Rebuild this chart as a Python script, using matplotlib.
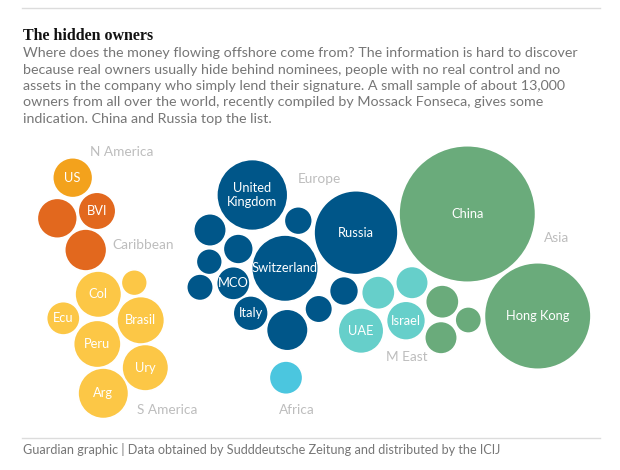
import matplotlib.pyplot as plt
from matplotlib.patches import Circle

# bubbles: label, region, centre x, centre y, radius (pixel space of the graphic)
labels = ["US", "", "BVI", "",
          "Col", "", "Ecu", "Brasil", "Peru", "Ury", "Arg",
          "United\nKingdom", "", "", "", "", "Switzerland", "", "MCO", "Italy", "", "", "", "Russia",
          "",
          "", "", "UAE", "Israel",
          "China", "Hong Kong", "", "", ""]
regions = ["nam", "car", "car", "car",
           "sam", "sam", "sam", "sam", "sam", "sam", "sam",
           "eur", "eur", "eur", "eur", "eur", "eur", "eur", "eur", "eur", "eur", "eur", "eur", "eur",
           "afr",
           "mea", "mea", "mea", "mea",
           "asia", "asia", "asia", "asia", "asia"]
cx = [72.7, 57.3, 97.0, 85.7,
      98.3, 134.3, 63.3, 140.7, 97.3, 145.3, 103.3,
      252.3, 210.0, 298.3, 238.3, 209.3, 285.0, 200.0, 233.3, 250.7, 287.3, 318.7, 344.0, 356.0,
      286.0,
      378.3, 412.0, 361.0, 406.0,
      467.3, 537.7, 442.3, 468.3, 441.0]
cy = [177.7, 218.3, 211.0, 250.0,
      294.3, 282.7, 318.3, 320.3, 344.0, 367.7, 393.3,
      195.0, 230.0, 220.7, 249.0, 261.7, 268.3, 287.3, 283.3, 313.3, 330.0, 309.0, 291.0, 232.7,
      377.7,
      292.7, 282.7, 330.7, 320.7,
      214.0, 316.0, 301.7, 320.0, 337.7]
radius = [20.0, 20.0, 18.8, 21.0,
          23.3, 13.0, 16.7, 23.8, 23.7, 23.3, 25.3,
          35.5, 16.3, 14.0, 15.0, 13.0, 33.3, 13.3, 16.7, 17.5, 20.8, 13.8, 14.5, 42.0,
          16.7,
          16.7, 16.3, 22.8, 19.5,
          68.3, 53.3, 16.7, 13.2, 16.3]

colours = {"nam": "#f3a21c", "car": "#e2681e", "sam": "#fcc746", "eur": "#005689",
           "afr": "#4bc6df", "mea": "#66cfca", "asia": "#6aab7b"}

region_names = ["N America", "Caribbean", "S America", "Europe", "Africa", "M East", "Asia"]
region_x = [122, 143, 167, 319, 297, 407, 557]
region_y = [152, 245, 410, 179, 410, 357, 238]

title = "The hidden owners"
subtitle_lines = [
    "Where does the money flowing offshore come from? The information is hard to discover",
    "because real owners usually hide behind nominees, people with no real control and no",
    "assets in the company who simply lend their signature. A small sample of about 13,000",
    "owners from all over the world, recently compiled by Mossack Fonseca, gives some",
    "indication. China and Russia top the list.",
]
source = "Guardian graphic | Data obtained by Sudddeutsche Zeitung and distributed by the ICIJ"

fig = plt.figure(figsize=(6.2, 4.7), dpi=100)
ax = fig.add_axes([0, 0, 1, 1])
ax.set_xlim(0, 620)
ax.set_ylim(470, 0)
ax.axis("off")

ax.plot([22, 600], [8, 8], color="#dcdcdc", lw=1)
ax.plot([22, 600], [438, 438], color="#dcdcdc", lw=1)

ax.text(23, 36, title, fontsize=11.5, fontweight="bold", family="Liberation Serif",
        color="#121212", va="center")
for i, line in enumerate(subtitle_lines):
    ax.text(23, 53 + i * 16.5, line, fontsize=10.3, family="Lato", color="#767676",
            va="center")

for lab, reg, x, y, r in zip(labels, regions, cx, cy, radius):
    ax.add_patch(Circle((x, y), r, facecolor=colours[reg], edgecolor="white", lw=1.2))
    if lab:
        ax.text(x, y, lab, fontsize=9.3, family="Lato", color="white",
                ha="center", va="center", linespacing=1.1)

for name, x, y in zip(region_names, region_x, region_y):
    ax.text(x, y, name, fontsize=9.8, family="Lato", color="#bdbdbd", ha="center", va="center")

ax.text(23, 450, source, fontsize=9.1, family="Lato", color="#767676", va="center")

fig.savefig("out.png", dpi=100)
